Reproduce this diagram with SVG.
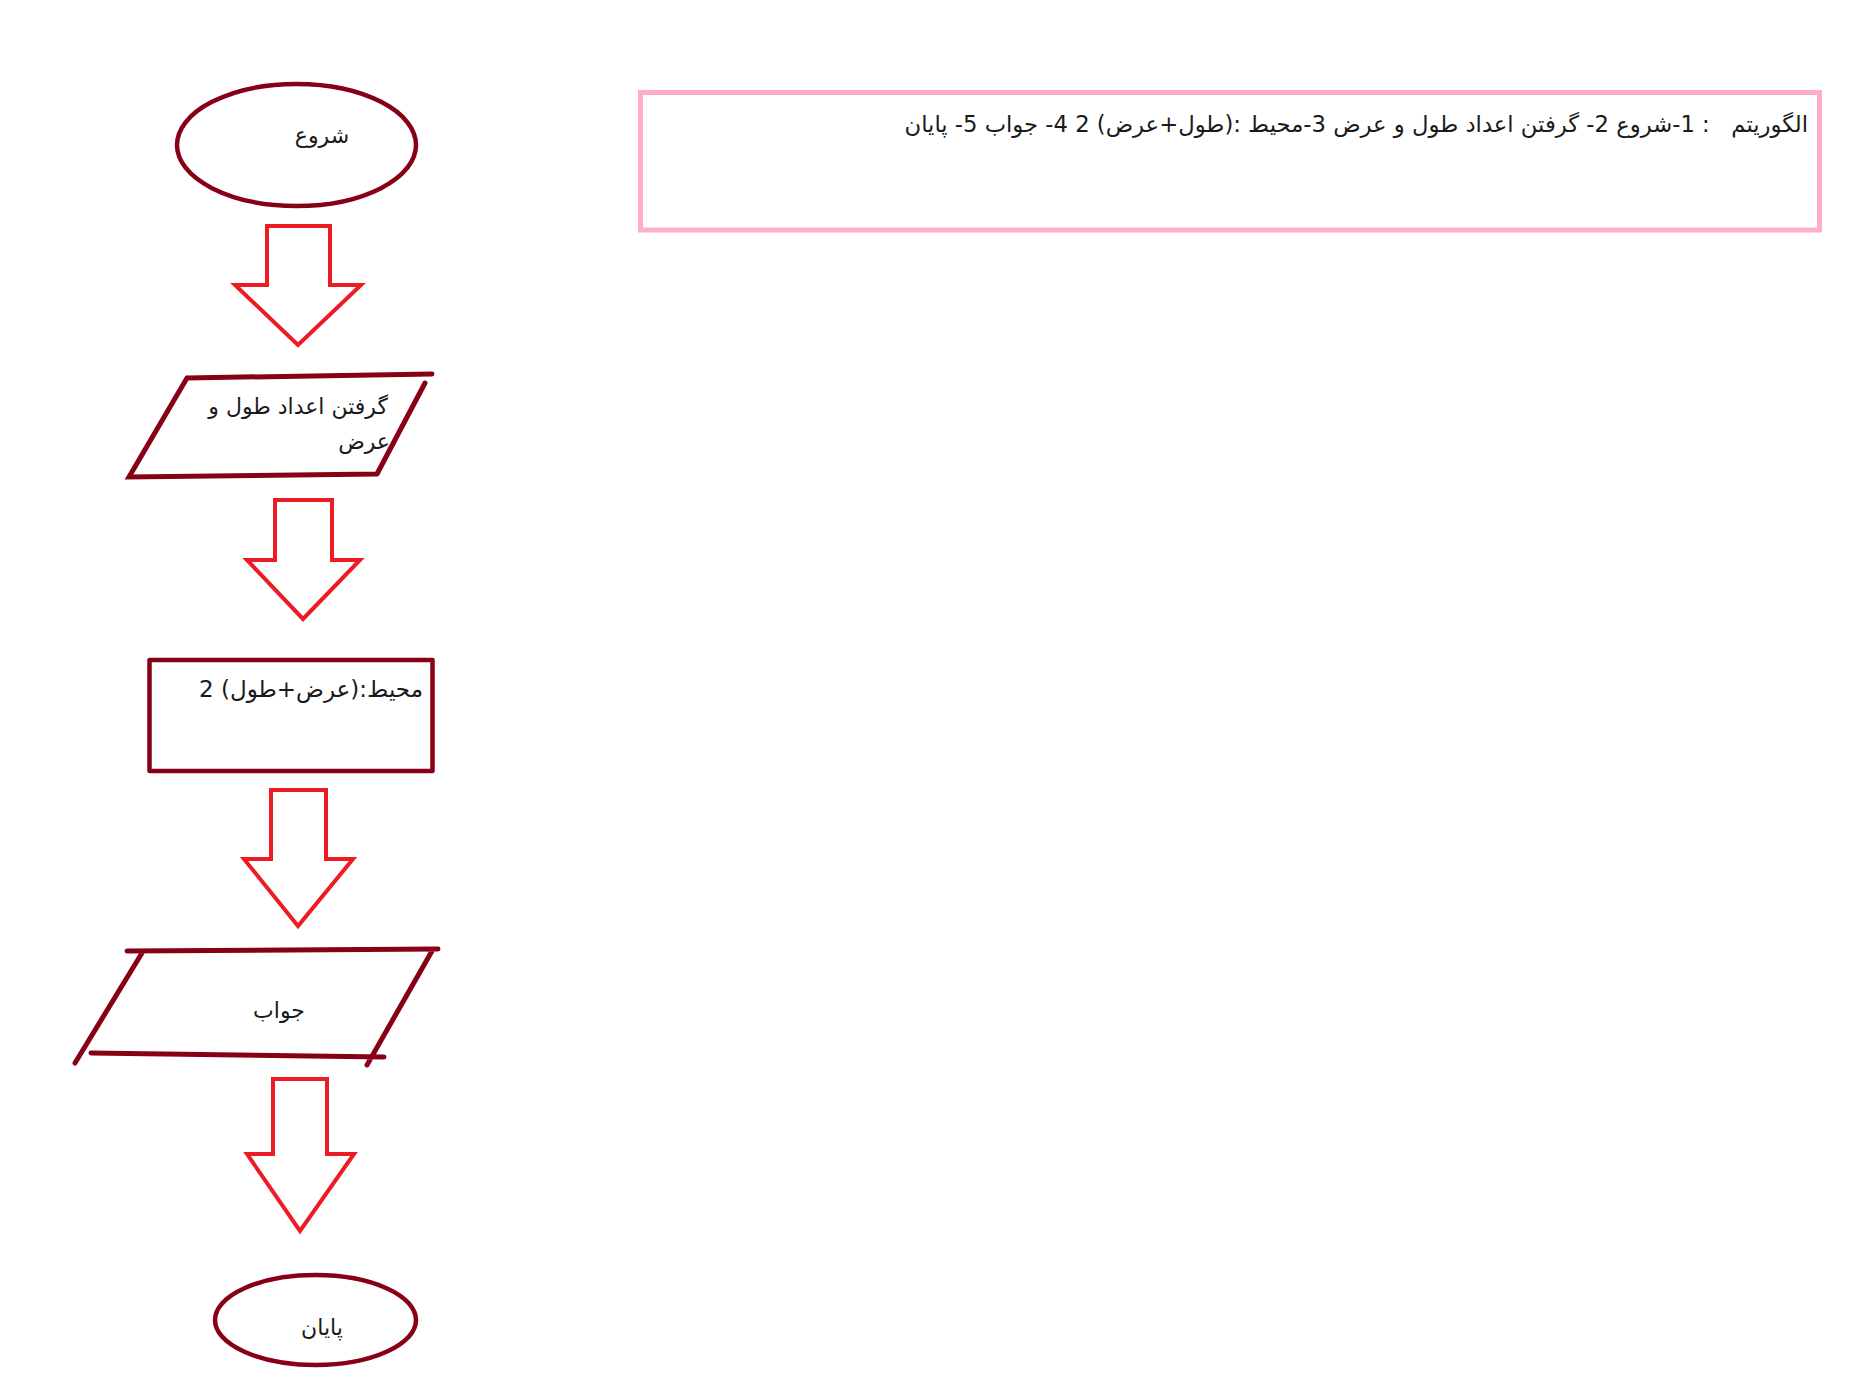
<svg xmlns="http://www.w3.org/2000/svg" width="1856" height="1378" viewBox="0 0 1856 1378">
<style>
.node{fill:#FFFFFF;stroke:#880015;stroke-width:4.5;stroke-linecap:round;stroke-linejoin:round}
.ln{fill:none;stroke:#880015;stroke-width:5;stroke-linecap:round}
.arr{fill:#FFFFFF;stroke:#ED1C24;stroke-width:4;stroke-linejoin:miter}
.t{font-family:"DejaVu Sans",sans-serif;font-size:22px;fill:#1a1a1a;direction:rtl;white-space:pre}
.note{fill:#FFFFFF;stroke:#FFAEC9;stroke-width:5}
</style>
<rect width="1856" height="1378" fill="#FFFFFF"/>
<g id="note">
<rect class="note" x="640.5" y="92.5" width="1179" height="137.5"/>
<text class="t" x="1808" y="132" text-anchor="start" style="font-size:22.7px" xml:space="preserve">الگوریتم   : 1-شروع 2- گرفتن اعداد طول و عرض 3-محیط :(طول+عرض) 2 4- جواب 5- پایان</text>
</g>
<g id="start">
<ellipse class="node" cx="296.5" cy="145" rx="119.5" ry="61"/>
<text class="t" x="322" y="143" text-anchor="middle">شروع</text>
</g>
<g id="input">
<path class="ln" d="M187,378 L432,374 M187,378 L129,477 L377,474 M425,383 L377,474"/>
<text class="t" x="388" y="414" text-anchor="start">گرفتن اعداد طول و</text>
<text class="t" x="390" y="449" text-anchor="start">عرض</text>
</g>
<g id="process">
<rect class="node" x="149.5" y="660" width="283" height="111"/>
<text class="t" x="423" y="697" text-anchor="start" style="font-size:23px">محیط:(عرض+طول) 2</text>
</g>
<g id="output">
<path class="ln" d="M127,951 L438,949 M142,953 L75,1063 M91,1053 L384,1057 M432,951 L367,1065"/>
<text class="t" x="279" y="1018" text-anchor="middle">جواب</text>
</g>
<g id="end">
<ellipse class="node" cx="315.5" cy="1320" rx="100.5" ry="45"/>
<text class="t" x="322" y="1335" text-anchor="middle">پایان</text>
</g>
<g id="connectors">
<polygon class="arr" points="267,226 330,226 330,285 361,285 298,345 235,285 267,285"/>
<polygon class="arr" points="275,500 332,500 332,560 360,560 303,619 247,560 275,560"/>
<polygon class="arr" points="271,790 326,790 326,859 353,859 298,926 244,859 271,859"/>
<polygon class="arr" points="273,1079 327,1079 327,1154 354,1154 300,1231 247,1154 273,1154"/>
</g>
</svg>
